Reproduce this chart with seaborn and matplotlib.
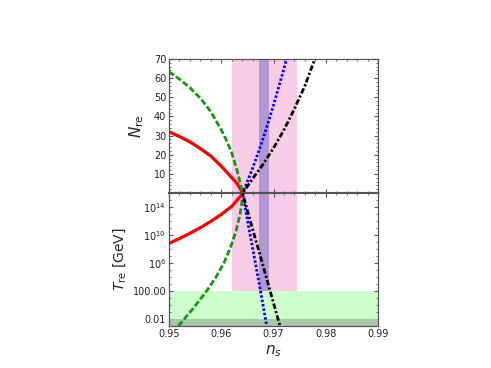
import numpy as np
import matplotlib
matplotlib.use("Agg")
import matplotlib.pyplot as plt
import seaborn as sns

sns.set_style("ticks")
plt.rcParams['font.family'] = ['DejaVu Sans']
plt.rcParams['mathtext.fontset'] = 'dejavusans'

# --- data ---
# N_re (top panel)
red_ns_top = [0.950, 0.952, 0.954, 0.956, 0.958, 0.960, 0.962, 0.963, 0.9641, 0.9650]
red_N_top = [32.0, 29.5, 26.7, 23.2, 19.3, 14.0, 8.0, 5.1, 0.0, -4.0]
green_ns_top = [0.950, 0.952, 0.954, 0.956, 0.958, 0.960, 0.961, 0.962, 0.963, 0.9641, 0.9646]
green_N_top = [63.4, 59.5, 55.0, 49.5, 42.5, 33.0, 27.5, 21.0, 12.0, 0.0, -6.0]
blue_ns_top = [0.9638, 0.9641, 0.965, 0.966, 0.967, 0.968, 0.969, 0.970, 0.971, 0.972, 0.9725]
blue_N_top = [-3.0, 0.0, 6.0, 13.0, 20.5, 28.5, 37.0, 46.0, 55.5, 65.0, 70.0]
black_ns_top = [0.9636, 0.9641, 0.965, 0.966, 0.968, 0.970, 0.972, 0.974, 0.976, 0.9779]
black_N_top = [-3.0, 0.0, 3.5, 7.5, 15.0, 23.5, 33.0, 44.0, 56.0, 70.0]

# log10 T_re [GeV] (bottom panel)
red_ns_bot = [0.950, 0.952, 0.954, 0.956, 0.958, 0.960, 0.962, 0.9641, 0.9655]
red_logT_bot = [8.8, 9.5, 10.25, 11.05, 11.95, 12.95, 14.1, 15.9, 17.2]
green_ns_bot = [0.9518, 0.9545, 0.9572, 0.9590, 0.9605, 0.9618, 0.9628, 0.9636, 0.9639, 0.9641, 0.9644]
green_logT_bot = [-3.0, -0.6, 2.0, 4.0, 6.0, 8.3, 10.5, 13.0, 14.4, 15.9, 17.2]
blue_ns_bot = [0.9638, 0.9641, 0.9653, 0.9665, 0.9676, 0.9687]
blue_logT_bot = [17.0, 15.9, 10.9, 6.1, 1.6, -3.0]
black_ns_bot = [0.9636, 0.9641, 0.9659, 0.9677, 0.9695, 0.97124]
black_logT_bot = [17.0, 15.9, 11.1, 6.4, 1.6, -3.0]

# bands
planck_band = (0.9620, 0.9744)
future_band = (0.9672, 0.9692)
T_min_band = 1e2
bbn_band = 1e-2

xticks = [0.95, 0.96, 0.97, 0.98, 0.99]
N_ticks = [10, 20, 30, 40, 50, 60, 70]
T_ticks = [1e-2, 1e2, 1e6, 1e10, 1e14]
T_ticklabels = ["0.01", "100.00", "$10^{6}$", "$10^{10}$", "$10^{14}$"]

pink = "#F9CCE8"
purple = "#B098D4"
lightgreen = "#CCFFCC"
darkband = "#A8C8A8"
spine_col = "#555555"

green_style = (0, (2.2, 0.9))
blue_style = (0, (0.9, 0.7))
black_style = (0, (2.0, 0.8, 0.8, 0.8))

fig = plt.figure(figsize=(4.91, 3.68), dpi=100)
ax1 = fig.add_axes([0.3442, 0.4755, 0.4258, 0.3642])
ax2 = fig.add_axes([0.3442, 0.1141, 0.4258, 0.3614], sharex=ax1)

# top panel bands
ax1.axvspan(*planck_band, color=pink, lw=0, zorder=0)
ax1.axvspan(*future_band, color=purple, lw=0, zorder=1)

# bottom panel bands
ax2.fill_between(list(planck_band), T_min_band, 1e16, color=pink, lw=0, zorder=0)
ax2.fill_between(list(future_band), T_min_band, 1e16, color=purple, lw=0, zorder=1)
ax2.fill_between([0.95, 0.99], 1e-3, T_min_band, color=lightgreen, lw=0, zorder=0)
ax2.fill_between([0.95, 0.99], 1e-3, bbn_band, color=darkband, lw=0, zorder=1)

lw = 2.0
sns.lineplot(x=red_ns_top, y=red_N_top, ax=ax1, color="red", lw=2.3, sort=False, zorder=3)
sns.lineplot(x=green_ns_top, y=green_N_top, ax=ax1, color="#119911", lw=lw,
             linestyle=green_style, sort=False, zorder=3)
sns.lineplot(x=blue_ns_top, y=blue_N_top, ax=ax1, color="blue", lw=lw,
             linestyle=blue_style, sort=False, zorder=3)
sns.lineplot(x=black_ns_top, y=black_N_top, ax=ax1, color="black", lw=lw,
             linestyle=black_style, sort=False, zorder=3)

sns.lineplot(x=red_ns_bot, y=[10 ** v for v in red_logT_bot], ax=ax2, color="red", lw=2.3,
             sort=False, zorder=3)
sns.lineplot(x=green_ns_bot, y=[10 ** v for v in green_logT_bot], ax=ax2, color="#119911", lw=lw,
             linestyle=green_style, sort=False, zorder=3)
sns.lineplot(x=blue_ns_bot, y=[10 ** v for v in blue_logT_bot], ax=ax2, color="blue", lw=lw,
             linestyle=blue_style, sort=False, zorder=3)
sns.lineplot(x=black_ns_bot, y=[10 ** v for v in black_logT_bot], ax=ax2, color="black", lw=lw,
             linestyle=black_style, sort=False, zorder=3)

ax1.set_xlim(0.95, 0.99)
ax1.set_ylim(0, 70)
ax2.set_yscale("log")
ax2.set_ylim(1e-3, 1e16)

ax1.set_yticks(N_ticks)
ax1.set_yticks(np.arange(0, 71, 2), minor=True)
ax1.set_xticks(xticks)
ax1.set_xticks(np.arange(0.95, 0.9901, 0.002), minor=True)
ax1.tick_params(labelbottom=False)

ax2.set_yticks(T_ticks)
ax2.set_yticklabels(T_ticklabels)
ax2.set_yticks([10.0 ** k for k in range(-3, 17)], minor=True)
ax2.yaxis.set_minor_formatter(matplotlib.ticker.NullFormatter())
ax2.set_xticks(xticks)
ax2.set_xticklabels(["0.95", "0.96", "0.97", "0.98", "0.99"])

for ax in (ax1, ax2):
    ax.tick_params(which="both", direction="in", top=True, right=True,
                   color=spine_col, labelsize=7, labelcolor="#222222", pad=2)
    ax.tick_params(which="major", length=3, width=0.8)
    ax.tick_params(which="minor", length=1.5, width=0.6)
    for s in ax.spines.values():
        s.set_color(spine_col)
        s.set_linewidth(0.9)
ax1.spines["bottom"].set_linewidth(1.5)
ax2.spines["top"].set_linewidth(1.5)

ax1.set_ylabel(r"$N_{\rm re}$", fontsize=11, labelpad=6)
ax2.set_ylabel(r"$T_{\rm re}$ [GeV]", fontsize=10, labelpad=3)
ax2.set_xlabel(r"$n_s$", fontsize=11, labelpad=3)
ax1.set_xlabel("")

fig.savefig("out.png", dpi=100)
